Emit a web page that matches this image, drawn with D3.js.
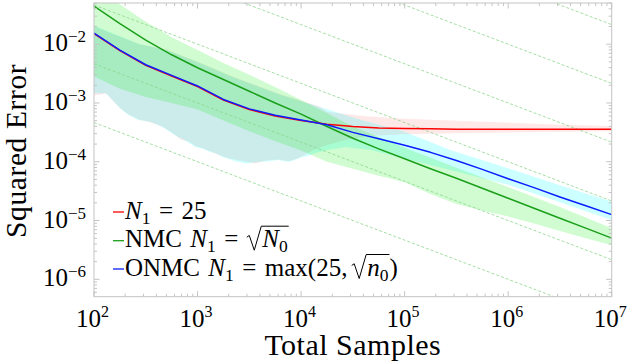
<!DOCTYPE html>
<meta charset="utf-8">
<head>
<script src="https://d3js.org/d3.v7.min.js"></script>
<style>
body { margin: 0; background: #fff; }
text { font-family: "Liberation Serif", "Times New Roman", serif; fill: #000; }
</style>
</head>
<body>
<svg id="chart" width="639" height="362"></svg>
<script>

// ---- data (log10 of Total Samples, log10 of Squared Error) ----
var lineX = [2, 2.25, 2.5, 2.75, 3, 3.25, 3.5, 3.75, 4, 4.25, 4.5, 4.75, 5, 5.25, 5.5, 5.75, 6, 6.25, 6.5, 6.75, 7];

var nmcLine   = [-1.35, -1.65, -1.93, -2.18, -2.40, -2.60, -2.80, -3.00, -3.19, -3.40, -3.60, -3.78, -3.95, -4.12, -4.28, -4.45, -4.62, -4.79, -4.96, -5.13, -5.30];
var onmcLine  = [-1.81, -2.10, -2.35, -2.53, -2.71, -2.94, -3.10, -3.21, -3.29, -3.37, -3.50, -3.61, -3.72, -3.84, -3.98, -4.13, -4.29, -4.44, -4.60, -4.75, -4.90];
var fixedLine = [-1.82, -2.11, -2.36, -2.54, -2.72, -2.95, -3.11, -3.22, -3.30, -3.36, -3.40, -3.425, -3.435, -3.44, -3.445, -3.445, -3.445, -3.445, -3.445, -3.445, -3.445];

// NMC spread (same x grid as lines)
var nmcUpper = [-1.0, -1.32, -1.62, -1.88, -2.10, -2.32, -2.52, -2.73, -2.95, -3.17, -3.40, -3.58, -3.76, -3.93, -4.10, -4.27, -4.43, -4.60, -4.77, -4.95, -5.13];
var nmcLower = [-2.55, -2.76, -2.90, -3.00, -3.11, -3.30, -3.48, -3.65, -3.81, -4.00, -4.12, -4.24, -4.35, -4.55, -4.72, -4.83, -4.93, -5.05, -5.18, -5.30, -5.42];

// ONMC spread
var onmcUpperX = [2.0, 2.44, 2.70, 3.02, 3.34, 3.80, 4.18, 4.60, 4.99, 5.44, 6.0, 6.5, 7.0];
var onmcUpper  = [-1.68, -2.00, -2.10, -2.32, -2.56, -2.86, -3.07, -3.30, -3.48, -3.80, -4.11, -4.40, -4.68];
var onmcLowerX = [2.0, 2.05, 2.11, 2.18, 2.25, 2.33, 2.43, 2.54, 2.60, 2.66, 2.74, 2.81, 2.88, 2.98, 3.05, 3.12, 3.18, 3.24, 3.30, 3.36, 3.42, 3.46, 3.52, 3.60, 3.68, 3.78, 3.84, 3.89, 3.95, 4.01, 4.07, 4.14, 4.26, 4.43, 4.67, 4.99, 5.44, 6.0, 6.5, 7.0];
var onmcLower  = [-2.83, -2.84, -2.83, -2.95, -3.09, -3.20, -3.29, -3.32, -3.36, -3.41, -3.50, -3.58, -3.64, -3.75, -3.78, -3.83, -3.86, -3.92, -3.95, -3.99, -4.01, -4.03, -4.02, -4.00, -3.99, -3.97, -3.99, -4.00, -3.96, -3.92, -3.90, -3.85, -3.80, -3.75, -3.80, -3.94, -4.14, -4.39, -4.69, -4.99];

// N1 = 25 spread
var fixedUpperX = [2.0, 2.44, 2.70, 3.02, 3.34, 3.80, 4.18, 4.25, 4.60, 5.0, 5.64, 6.51, 7.0];
var fixedUpper  = [-1.70, -2.00, -2.09, -2.31, -2.55, -2.85, -3.06, -3.15, -3.22, -3.27, -3.31, -3.37, -3.39];
var fixedLowerX = [2.0, 2.05, 2.12, 2.18, 2.25, 2.33, 2.43, 2.54, 2.66, 2.74, 2.84, 2.92, 2.98, 3.05, 3.12, 3.20, 3.30, 3.40, 3.48, 3.56, 3.66, 3.78, 3.88, 3.96, 4.02, 4.12, 4.26, 4.43, 4.67, 4.99, 5.64, 6.51, 7.0];
var fixedLower  = [-2.87, -2.86, -2.84, -2.96, -3.08, -3.19, -3.28, -3.33, -3.40, -3.49, -3.62, -3.66, -3.73, -3.77, -3.82, -3.88, -3.94, -3.98, -4.00, -4.03, -3.98, -3.96, -3.99, -3.95, -3.90, -3.80, -3.71, -3.63, -3.56, -3.53, -3.51, -3.49, -3.48];

// dashed reference lines: value at 10^2 and at 10^7 samples
var guideAt1e2 = [-3.333, -2.333, -1.333, -0.333, 0.667, 1.667];
var guideAt1e7 = [-6.667, -5.667, -4.667, -3.667, -2.667, -1.667];

var xTickExp = [2, 3, 4, 5, 6, 7];
var yTickExp = [-2, -3, -4, -5, -6];

// ---- layout ----
var svg = d3.select("#chart");
var pL = 94, pR = 611.7, pT = 3, pB = 296.7;
var axisGray = "#c4c4c4";

var x = d3.scaleLog().domain([1e2, 1e7]).range([pL, pR]);
var y = d3.scaleLog().domain([Math.pow(10, -6.296), Math.pow(10, -1.299)]).range([pB, pT]);

function pts(xs, ys) {
  return xs.map(function(v, i) { return [x(Math.pow(10, v)), y(Math.pow(10, ys[i]))]; });
}

svg.append("defs").append("clipPath").attr("id", "clip")
  .append("rect").attr("x", pL).attr("y", pT).attr("width", pR - pL).attr("height", pB - pT);

var plot = svg.append("g").attr("clip-path", "url(#clip)");
var line = d3.line();

function band(ux, uy, lx, ly, color) {
  var p = pts(ux, uy).concat(pts(lx, ly).reverse());
  plot.append("path").attr("d", line(p) + "Z").attr("fill", color).attr("stroke", "none");
}

// pink underneath so the cyan / green tints stay clean where they overlap
band(fixedUpperX, fixedUpper, fixedLowerX, fixedLower, "rgba(255,0,0,0.09)");
band(onmcUpperX, onmcUpper, onmcLowerX, onmcLower, "rgba(0,255,255,0.2)");
band(lineX, nmcUpper, lineX, nmcLower, "rgba(0,240,0,0.18)");

// reference lines
guideAt1e2.forEach(function(v, i) {
  plot.append("path")
    .attr("d", line(pts([2, 7], [v, guideAt1e7[i]])))
    .attr("fill", "none")
    .attr("stroke", "#8cd68c")
    .attr("stroke-width", 0.8)
    .attr("stroke-dasharray", "3,2");
});

function drawLine(ys, color) {
  plot.append("path")
    .attr("d", line(pts(lineX, ys)))
    .attr("fill", "none")
    .attr("stroke", color)
    .attr("stroke-width", 1.5)
    .attr("stroke-linejoin", "round");
}
drawLine(nmcLine, "#1a9f1a");
drawLine(fixedLine, "#ff0000");
drawLine(onmcLine, "#0a1eff");

// ---- axes (box with inward ticks on all sides) ----
var ax = svg.append("g").attr("stroke", axisGray).attr("stroke-width", 1).attr("fill", "none");
ax.append("rect").attr("x", pL).attr("y", pT).attr("width", pR - pL).attr("height", pB - pT);

function isMajor(v) { return Math.abs(Math.log10(v) - Math.round(Math.log10(v))) < 1e-6; }

x.ticks().forEach(function(t) {
  var px = x(t), len = isMajor(t) ? 5.5 : 3;
  ax.append("line").attr("x1", px).attr("x2", px).attr("y1", pB).attr("y2", pB - len);
  ax.append("line").attr("x1", px).attr("x2", px).attr("y1", pT).attr("y2", pT + len);
});
y.ticks().forEach(function(t) {
  var py = y(t), len = isMajor(t) ? 5.5 : 3;
  ax.append("line").attr("y1", py).attr("y2", py).attr("x1", pL).attr("x2", pL + len);
  ax.append("line").attr("y1", py).attr("y2", py).attr("x1", pR).attr("x2", pR - len);
});

// tick labels
xTickExp.forEach(function(e) {
  var t = svg.append("text").attr("x", x(Math.pow(10, e)) - 1.5).attr("y", 327)
    .attr("text-anchor", "middle").attr("font-size", 25);
  t.append("tspan").text("10");
  t.append("tspan").attr("dy", -10).attr("font-size", 16).text(e);
});
yTickExp.forEach(function(e) {
  var t = svg.append("text").attr("x", 86).attr("y", y(Math.pow(10, e)) + 7)
    .attr("text-anchor", "end").attr("font-size", 25);
  t.append("tspan").text("10");
  t.append("tspan").attr("dy", -9).attr("font-size", 17).text("\u2212" + (-e));
});

// axis titles
svg.append("text").attr("x", (pL + pR) / 2).attr("y", 355)
  .attr("text-anchor", "middle").attr("font-size", 30).style("letter-spacing", "0.5px").text("Total Samples");
svg.append("text").attr("transform", "translate(26," + ((pT + pB) / 2 + 1) + ") rotate(-90)")
  .attr("text-anchor", "middle").attr("font-size", 29.5).style("letter-spacing", "0.6px").text("Squared Error");

// ---- legend ----
function measure(str, size, italic) {
  var t = svg.append("text").attr("font-size", size).style("font-style", italic ? "italic" : "normal").text(str);
  var w = t.node().getComputedTextLength();
  t.remove();
  return w;
}

function drawPieces(g, x0, base, pieces, size) {
  var cx = x0;
  pieces.forEach(function(p) {
    if (p.gap) { cx += p.gap * size; return; }
    if (p.sqrt) {
      var sx = cx;
      var inner = sx + size * 0.62;
      var end = drawPieces(g, inner, base, p.sqrt, size) + size * 0.04;
      var d = "M" + sx + "," + (base - size * 0.40) +
        "L" + (sx + size * 0.10) + "," + (base - size * 0.47) +
        "L" + (sx + size * 0.30) + "," + (base + size * 0.12) +
        "L" + (sx + size * 0.58) + "," + (base - size * 0.84) +
        "L" + end + "," + (base - size * 0.84);
      g.append("path").attr("d", d).attr("fill", "none").attr("stroke", "#000").attr("stroke-width", 1);
      cx = end;
      return;
    }
    var fs = p.sub ? size * 0.7 : size;
    var yy = p.sub ? base + size * 0.2 : base;
    g.append("text").attr("x", cx).attr("y", yy).attr("font-size", fs)
      .style("font-style", p.it ? "italic" : "normal").text(p.t);
    cx += measure(p.t, fs, p.it);
  });
  return cx;
}

var legendRows = [
  { color: "#ff0000", y: 212, pieces: [{t: "N", it: true}, {t: "1", sub: true}, {gap: 0.34}, {t: "="}, {gap: 0.34}, {t: "25"}] },
  { color: "#1a9f1a", y: 240.7, pieces: [{t: "NMC"}, {gap: 0.33}, {t: "N", it: true}, {t: "1", sub: true}, {gap: 0.34}, {t: "="}, {gap: 0.34},
      {sqrt: [{t: "N", it: true}, {t: "0", sub: true}]}] },
  { color: "#0a1eff", y: 269, pieces: [{t: "ONMC"}, {gap: 0.33}, {t: "N", it: true}, {t: "1", sub: true}, {gap: 0.34}, {t: "="}, {gap: 0.34},
      {t: "max(25,"}, {gap: 0.17}, {sqrt: [{t: "n", it: true}, {t: "0", sub: true}]}, {t: ")"}] }
];

var leg = svg.append("g");
legendRows.forEach(function(r) {
  leg.append("line").attr("x1", 113).attr("x2", 124).attr("y1", r.y).attr("y2", r.y)
    .attr("stroke", r.color).attr("stroke-width", 1.3);
  drawPieces(leg, 125, r.y + 6.5, r.pieces, 25);
});

</script>
</body>
